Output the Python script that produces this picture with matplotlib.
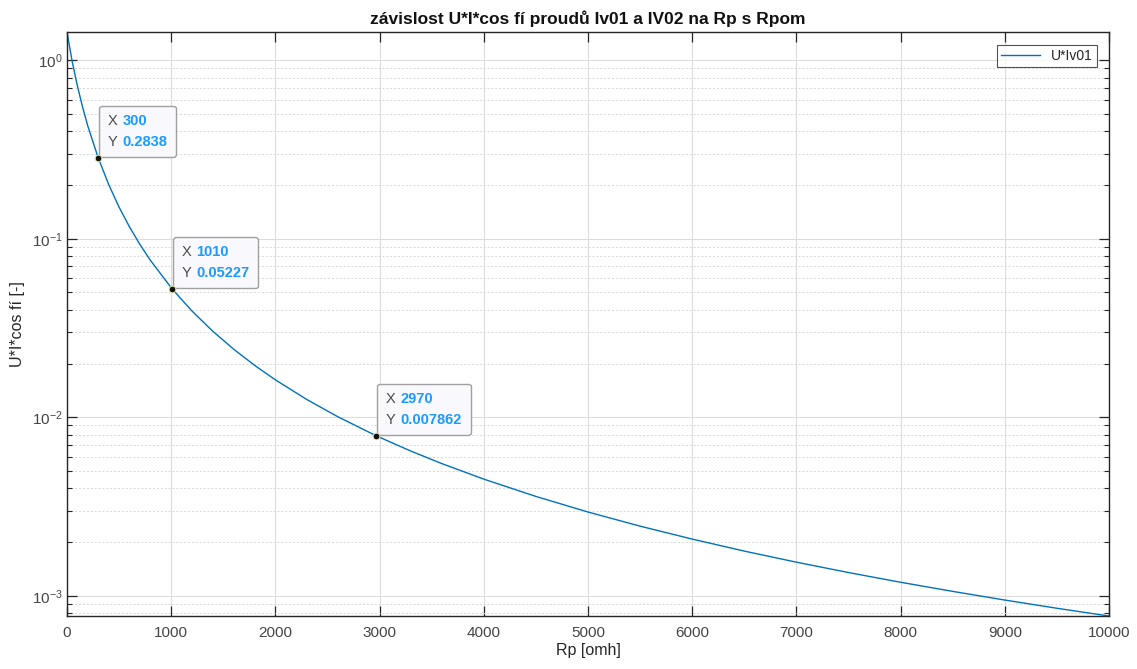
import matplotlib
matplotlib.use("Agg")
import matplotlib.pyplot as plt
from matplotlib.offsetbox import TextArea, HPacker, VPacker, AnnotationBbox
from matplotlib.ticker import LogLocator, NullFormatter

plt.rcParams['font.family'] = ['Liberation Sans', 'DejaVu Sans']
plt.rcParams['mathtext.fontset'] = 'custom'
plt.rcParams['mathtext.rm'] = 'Liberation Sans'
plt.rcParams['mathtext.it'] = 'Liberation Sans'

# curve values
rp = [0, 50, 100, 150, 200, 300, 400, 500, 600, 700, 800, 1010, 1200, 1400,
      1600, 1800, 2000, 2300, 2600, 2970, 3300, 3600, 4000, 4500, 5000, 5500,
      6000, 6500, 7000, 7500, 8000, 8500, 9000, 9500, 10000]
uicos = [1.44, 0.985, 0.718, 0.546, 0.428, 0.2838, 0.2015, 0.1503, 0.1165,
         0.0929, 0.0758, 0.05227, 0.03935, 0.03030, 0.02405, 0.01955, 0.01620,
         0.01259, 0.01006, 0.007862, 0.006465, 0.005492, 0.004502, 0.003601,
         0.002945, 0.002454, 0.002077, 0.001779, 0.001542, 0.001349, 0.001190,
         0.001058, 0.000946, 0.000851, 0.000770]

# data tips
tip_x = [300, 1010, 2970]
tip_y = [0.2838, 0.05227, 0.007862]
tip_lbl = ["300", "1010", "2970"]
tip_val = ["0.2838", "0.05227", "0.007862"]

dark = '#262626'
blue = '#0072BD'
tipblue = '#1a9bff'

fig = plt.figure(figsize=(11.37, 6.69), dpi=100)
ax = fig.add_axes([0.0589, 0.0792, 0.9165, 0.873])

ax.plot(rp, uicos, color=blue, lw=1.0, label='U*Iv01')
ax.set_yscale('log')
ax.set_xlim(0, 10000)
ax.set_ylim(min(uicos), max(uicos))
ax.set_xticks(range(0, 10001, 1000))

ax.yaxis.set_minor_locator(LogLocator(base=10, subs=range(2, 10), numticks=20))
ax.yaxis.set_minor_formatter(NullFormatter())

ax.grid(True, which='major', color='#dcdcdc', lw=0.8)
ax.grid(True, which='minor', axis='y', color='#d8d8d8', lw=0.7, ls=(0, (2, 2)))
ax.set_axisbelow(True)

ax.tick_params(which='both', direction='in', top=True, right=True,
               colors=dark, labelcolor='#454545', labelsize=11)
ax.tick_params(which='major', length=7, width=0.9)
ax.tick_params(which='minor', length=3.5, width=0.8)
ax.tick_params(axis='x', which='major', pad=7)
ax.tick_params(axis='y', which='major', pad=3)
for s in ax.spines.values():
    s.set_color(dark)
    s.set_linewidth(1.0)

ax.set_title('závislost U*I*cos fí proudů Iv01 a IV02 na Rp s Rpom',
             fontsize=12.5, fontweight='bold', color='#111111', pad=6)
ax.set_xlabel('Rp [omh]', fontsize=11.5, color=dark, labelpad=2)
ax.set_ylabel('U*I*cos fí [-]', fontsize=11.5, color=dark, labelpad=5)

leg = ax.legend(loc='upper right', fontsize=10, frameon=True, fancybox=False,
                handlelength=2.8, borderaxespad=0, borderpad=0.3,
                bbox_to_anchor=(0.9885, 0.9777))
leg.get_frame().set_edgecolor(dark)
leg.get_frame().set_linewidth(0.8)
for t in leg.get_texts():
    t.set_color(dark)

# data tips
for x, y, lx, vy in zip(tip_x, tip_y, tip_lbl, tip_val):
    ax.plot([x], [y], 'o', ms=4.8, mfc='#111111', mec='#e8e89a', mew=0.7, zorder=5)
    row1 = HPacker(children=[TextArea("X", textprops=dict(color='#4d4d4d', fontsize=10.5)),
                             TextArea(lx, textprops=dict(color=tipblue, fontsize=10.5,
                                                         fontweight='bold'))],
                   pad=0, sep=4, align='baseline')
    row2 = HPacker(children=[TextArea("Y", textprops=dict(color='#4d4d4d', fontsize=10.5)),
                             TextArea(vy, textprops=dict(color=tipblue, fontsize=10.5,
                                                         fontweight='bold'))],
                   pad=0, sep=4, align='baseline')
    box = VPacker(children=[row1, row2], pad=0, sep=5, align='left')
    ab = AnnotationBbox(box, (x, y), xybox=(6.5, 6.5), xycoords='data',
                        boxcoords='offset points', box_alignment=(0, 0),
                        pad=0.6, frameon=True,
                        bboxprops=dict(boxstyle='round,pad=0.6,rounding_size=0.2',
                                       fc='#f8f8fd', ec='#a0a0a0', lw=1.0))
    ax.add_artist(ab)

fig.savefig('out.png', dpi=100)
